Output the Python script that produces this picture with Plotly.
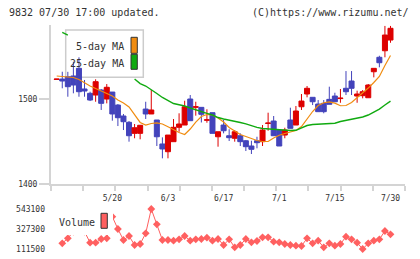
import plotly.graph_objects as go

# ---------------- data ----------------
date_labels = ["5/20", "6/3", "6/17", "7/1", "7/15", "7/30"]
date_label_idx = [10, 20, 30, 40, 50, 60]

opens = [1523.0, 1523.5, 1526.2, 1527.1, 1536.1, 1511.8, 1506.7, 1504.7, 1510.6, 1500.0,
         1508.2, 1492.9, 1480.0, 1472.6, 1459.6, 1459.6, 1488.2, 1482.4, 1475.3, 1447.1,
         1438.0, 1449.8, 1466.7, 1469.4, 1500.0, 1490.3, 1490.2, 1475.0, 1483.9, 1455.6,
         1469.4, 1456.8, 1453.8, 1456.8, 1450.9, 1444.7, 1450.9, 1449.8, 1471.2, 1474.1,
         1463.5, 1457.6, 1475.3, 1469.4, 1490.9, 1505.9, 1502.0, 1494.1, 1494.9, 1499.6,
         1503.5, 1500.5, 1512.6, 1521.2, 1503.5, 1503.9, 1501.5, 1532.1, 1549.1, 1556.8,
         1569.4]
highs = [1523.5, 1532.1, 1532.0, 1543.9, 1549.1, 1522.4, 1508.6, 1523.2, 1511.8, 1517.6,
         1508.2, 1494.1, 1482.4, 1474.1, 1470.6, 1469.4, 1496.8, 1510.6, 1475.3, 1454.9,
         1457.6, 1476.5, 1483.2, 1498.0, 1504.7, 1496.8, 1490.2, 1487.9, 1483.9, 1461.5,
         1475.3, 1464.4, 1463.5, 1459.6, 1451.8, 1450.9, 1455.6, 1469.4, 1483.9, 1480.0,
         1463.5, 1466.2, 1489.8, 1491.8, 1505.9, 1515.3, 1502.0, 1498.8, 1498.8, 1514.5,
         1507.4, 1511.8, 1532.9, 1532.9, 1509.8, 1510.6, 1517.6, 1536.1, 1550.9, 1586.0,
         1586.0]
lows = [1523.0, 1512.6, 1502.7, 1506.7, 1502.7, 1502.7, 1497.6, 1496.8, 1487.1, 1494.9,
        1474.5, 1468.2, 1463.5, 1449.8, 1453.8, 1452.6, 1476.5, 1482.4, 1444.7, 1430.2,
        1430.2, 1449.8, 1461.5, 1469.4, 1474.5, 1480.4, 1472.4, 1472.1, 1459.6, 1443.9,
        1459.6, 1450.6, 1449.8, 1444.7, 1438.8, 1435.3, 1442.0, 1444.7, 1462.7, 1456.8,
        1444.7, 1453.8, 1465.5, 1469.4, 1487.1, 1502.0, 1492.9, 1485.1, 1483.2, 1493.8,
        1496.8, 1495.6, 1504.7, 1504.7, 1495.6, 1500.8, 1501.5, 1525.5, 1537.3, 1549.1,
        1566.2]
closes = [1523.5, 1521.2, 1514.5, 1516.5, 1508.6, 1509.4, 1498.8, 1520.4, 1494.9, 1513.8,
          1482.4, 1478.0, 1473.3, 1456.8, 1466.2, 1469.1, 1482.4, 1487.1, 1455.6, 1441.2,
          1457.6, 1466.7, 1470.6, 1490.9, 1474.5, 1490.8, 1482.0, 1475.5, 1459.6, 1461.5,
          1462.7, 1454.5, 1461.5, 1449.8, 1443.9, 1440.8, 1448.6, 1463.5, 1471.7, 1456.8,
          1444.7, 1463.5, 1465.5, 1485.9, 1497.6, 1512.6, 1496.8, 1485.1, 1485.1, 1493.8,
          1496.8, 1501.0, 1508.6, 1512.6, 1505.9, 1508.6, 1516.5, 1536.1, 1542.7, 1575.3,
          1583.2]

ma5 = [1527.1, 1526.7, 1526.2, 1525.3, 1522.9, 1518.8, 1515.3, 1512.4, 1509.4, 1505.9,
       1503.5, 1498.8, 1495.3, 1490.6, 1481.2, 1472.4, 1469.4, 1471.2, 1471.8, 1470.6,
       1467.4, 1463.5, 1460.6, 1458.2, 1464.7, 1472.9, 1479.4, 1481.8, 1481.2, 1477.6,
       1472.9, 1466.5, 1462.4, 1458.2, 1455.9, 1453.5, 1451.2, 1450.0, 1450.0, 1454.1,
       1457.4, 1459.4, 1461.2, 1462.9, 1467.6, 1476.5, 1485.3, 1492.4, 1495.6, 1496.7,
       1495.1, 1492.1, 1492.4, 1495.9, 1501.2, 1507.1, 1512.9, 1519.4, 1526.5, 1539.4,
       1551.2]

ma25 = [None, 1578.5, 1575.3, None, None, None, None, None, None, None,
        None, None, None, None, 1523.5, 1518.2, 1515.3, 1511.2, 1506.5, 1501.8,
        1498.2, 1494.7, 1493.2, 1491.8, 1489.4, 1487.1, 1484.7, 1483.2, 1481.2, 1478.2,
        1476.5, 1475.3, 1474.5, 1472.4, 1470.8, 1468.5, 1466.7, 1465.3, 1464.7, 1464.4,
        1463.9, 1463.5, 1462.9, 1463.2, 1465.9, 1468.8, 1470.0, 1470.4, 1470.6, 1471.2,
        1471.5, 1473.5, 1474.7, 1475.9, 1477.3, 1478.8, 1481.2, 1484.7, 1488.2, 1492.9,
        1497.6]

volume = [None, 173000, 227000, 300000, 330000, 300000, 179500, 179500, 219400, 227000,
          460000, 327300, 208600, 251800, 154700, 165500, 280900, 543100, 378000, 208600,
          208600, 201100, 216200, 251800, 201100, 216200, 219400, 233400, 201100, 219400,
          154700, 216200, 129800, 154700, 219400, 183800, 197800, 237700, 237700, 190300,
          183800, 165500, 154700, 147100, 143900, 227000, 173000, 201100, 129800, 173000,
          147100, 165500, 244200, 216200, 179500, 111500, 173000, 201100, 216200, 305700,
          270100]

price_ticks = [1400, 1500]
volume_ticks = [111500, 327300, 543100]

idx = list(range(len(closes)))

# ---------------- styling / layout geometry ----------------
FONT = "DejaVu Sans Mono"
TXT = "#333333"
AXC = "#d4d4d4"
RED = "#dd0000"
BLUE = "#4343bb"
ORANGE = "#f08c10"
GREEN = "#10aa10"
VOLC = "#ff6060"

L, R, T, B = 51, 405, 25, 254
W, H = R - L, B - T


def fx(x):
    return (x - L) / W


def fy(y):
    return (B - y) / H


x_range = [-1.025, 62.607]
n_div = 11
x_ticks = [x_range[0] + k * (x_range[1] - x_range[0]) / n_div for k in range(n_div + 1)]

fig = go.Figure()

fig.add_trace(go.Scatter(x=idx, y=ma5, mode="lines", line=dict(color=ORANGE, width=1.2),
                         xaxis="x", yaxis="y", hoverinfo="skip", showlegend=False))
fig.add_trace(go.Scatter(x=idx, y=ma25, mode="lines", line=dict(color=GREEN, width=1.4),
                         connectgaps=False, xaxis="x", yaxis="y", hoverinfo="skip",
                         showlegend=False))
fig.add_trace(go.Candlestick(x=idx, open=opens, high=highs, low=lows, close=closes,
                             increasing=dict(line=dict(color=RED, width=1), fillcolor=RED),
                             decreasing=dict(line=dict(color=BLUE, width=1), fillcolor=BLUE),
                             whiskerwidth=0, xaxis="x", yaxis="y", hoverinfo="skip",
                             showlegend=False))
fig.add_trace(go.Scatter(x=idx, y=volume, mode="lines+markers",
                         line=dict(color=VOLC, width=1),
                         marker=dict(symbol="diamond", size=6, color=VOLC),
                         connectgaps=False, xaxis="x2", yaxis="y2", hoverinfo="skip",
                         showlegend=False))

shapes = [
    # MA legend box (behind the candles)
    dict(type="rect", xref="paper", yref="paper", layer="below",
         x0=fx(65.7), x1=fx(143.3), y0=fy(77.3), y1=fy(30),
         fillcolor="white", line=dict(color="#cccccc", width=1.5)),
    dict(type="rect", xref="paper", yref="paper", layer="above",
         x0=fx(131), x1=fx(137.3), y0=fy(53.3), y1=fy(37.3),
         fillcolor=ORANGE, line=dict(color="#333333", width=1)),
    dict(type="rect", xref="paper", yref="paper", layer="above",
         x0=fx(131), x1=fx(137.3), y0=fy(69.3), y1=fy(54.3),
         fillcolor=GREEN, line=dict(color="#333333", width=1)),
    # Volume legend box (over the line)
    dict(type="rect", xref="paper", yref="paper", layer="above",
         x0=fx(55), x1=fx(113), y0=fy(235), y1=fy(210),
         fillcolor="white", line=dict(width=0)),
    dict(type="rect", xref="paper", yref="paper", layer="above",
         x0=fx(101), x1=fx(107.3), y0=fy(228.3), y1=fy(213.3),
         fillcolor=VOLC, line=dict(color="#333333", width=1)),
]

annotations = [
    dict(text="9832 07/30 17:00 updated.", xref="paper", yref="paper",
         x=fx(7), y=fy(12.5), xanchor="left", yanchor="middle", showarrow=False,
         font=dict(family=FONT, size=10, color=TXT)),
    dict(text="(C)https://www.rizumu.net/", xref="paper", yref="paper",
         x=fx(411), y=fy(12.5), xanchor="right", yanchor="middle", showarrow=False,
         font=dict(family=FONT, size=10, color=TXT)),
    dict(text="5-day MA", xref="paper", yref="paper",
         x=fx(126), y=fy(46), xanchor="right", yanchor="middle", showarrow=False,
         font=dict(family=FONT, size=10, color=TXT)),
    dict(text="25-day MA", xref="paper", yref="paper",
         x=fx(126), y=fy(63), xanchor="right", yanchor="middle", showarrow=False,
         font=dict(family=FONT, size=10, color=TXT)),
    dict(text="Volume", xref="paper", yref="paper",
         x=fx(57), y=fy(222.5), xanchor="left", yanchor="middle", showarrow=False,
         font=dict(family=FONT, size=10, color=TXT)),
]

fig.update_layout(
    width=420, height=259,
    margin=dict(l=L, r=420 - R, t=T, b=259 - B, pad=0, autoexpand=False),
    paper_bgcolor="white", plot_bgcolor="white",
    showlegend=False, hovermode=False,
    boxgap=0.1, boxgroupgap=0,
    font=dict(family=FONT, size=8, color=TXT),
    shapes=shapes, annotations=annotations,
    xaxis=dict(domain=[0, 1], anchor="y", range=x_range, tickmode="array",
               tickvals=x_ticks, showticklabels=False, ticks="outside", ticklen=5,
               tickwidth=1.5, tickcolor=AXC, showline=True, linecolor=AXC, linewidth=2,
               showgrid=False, zeroline=False, automargin=False,
               rangeslider=dict(visible=False)),
    yaxis=dict(domain=[fy(184), fy(25)], anchor="x", range=[1400, 1587.1],
               tickmode="array", tickvals=price_ticks,
               ticktext=[str(v) for v in price_ticks], ticks="outside", ticklen=10,
               tickwidth=1.5, tickcolor=AXC, showline=True, linecolor=AXC, linewidth=2,
               showgrid=False, zeroline=False, automargin=False,
               tickfont=dict(family=FONT, size=8, color=TXT)),
    xaxis2=dict(domain=[0, 1], anchor="y2", matches="x", side="top", tickmode="array",
                tickvals=date_label_idx, ticktext=date_labels, ticks="", showline=False,
                showgrid=False, zeroline=False, automargin=False,
                rangeslider=dict(visible=False),
                tickfont=dict(family=FONT, size=8, color=TXT)),
    yaxis2=dict(domain=[0, fy(204)], anchor="x2", range=[57550, 597050],
                tickmode="array", tickvals=volume_ticks,
                ticktext=[str(v) for v in volume_ticks], ticks="", showline=False,
                showgrid=False, zeroline=False, ticklabelstandoff=5, automargin=False,
                tickfont=dict(family=FONT, size=8, color=TXT)),
)

fig.write_html("out.html")
